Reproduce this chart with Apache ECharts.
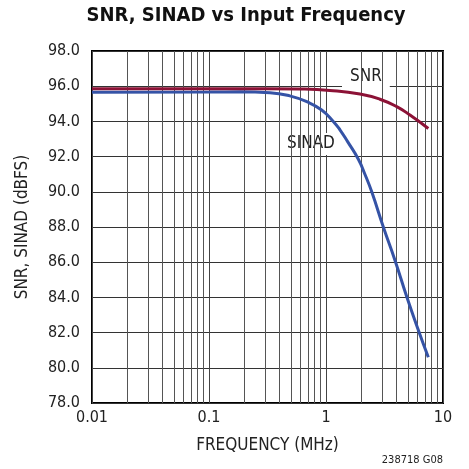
<!DOCTYPE html>
<html>
<head>
<meta charset="utf-8">
<script src="https://cdn.jsdelivr.net/npm/echarts@6/dist/echarts.min.js"></script>
<style>
    html, body{ margin: 0; padding: 0; background: #fff; }
    #main{ width: 469px; height: 469px; }
</style>
</head>
<body>
<div id="main"></div>
<script type="text/javascript">
    // 数据
    const snrFreq = [0.01, 0.1, 0.3, 0.6, 1.08, 1.95, 2.89, 4.02, 5.22, 7.49];
    const snrValues = [95.86, 95.86, 95.86, 95.84, 95.76, 95.56, 95.26, 94.84, 94.36, 93.6];
    const sinadFreq = [0.01, 0.1, 0.184, 0.332, 0.49, 0.684, 0.918, 1.154, 1.32, 1.53, 1.89, 2.15, 2.46, 3.09, 3.89, 4.9, 6.15, 7.49];
    const sinadValues = [95.66, 95.67, 95.68, 95.63, 95.45, 95.12, 94.65, 94.0, 93.51, 92.85, 91.85, 91.0, 90.0, 88.0, 86.1, 84.04, 82.15, 80.6];
    const xTicks = [0.01, 0.1, 1, 10];
    const minorLines = [0.02, 0.03, 0.04, 0.05, 0.06, 0.07, 0.08, 0.09,
                        0.2, 0.3, 0.4, 0.5, 0.6, 0.7, 0.8, 0.9,
                        2, 3, 4, 5, 6, 7, 8, 9];

    const font = "'DejaVu Sans Condensed', 'Liberation Sans', sans-serif";

    function pairs(xs, ys){
        let out = [];
        for(let i=0; i<xs.length; i++){
            out.push([xs[i], ys[i]]);
        }
        return out;
    }

    let myChart = echarts.init(document.getElementById('main'));

    let option = {
        animation: false,
        grid: {
            left: 92, right: 26, top: 51, bottom: 66,
            show: true, borderColor: '#000', borderWidth: 2
        },
        xAxis: {
            type: 'log',
            logBase: 10,
            min: 0.01,
            max: 10,
            name: 'FREQUENCY (MHz)',
            nameLocation: 'middle',
            nameGap: 34,
            nameTextStyle: { fontFamily: font, fontSize: 17, color: '#222' },
            axisLine: { show: false },
            axisTick: { show: false },
            axisLabel: {
                fontFamily: font, fontSize: 16, color: '#222', margin: 7,
                formatter: function (v) {
                    for (let t of xTicks) { if (Math.abs(v - t) < t * 1e-6) return String(t); }
                    return '';
                }
            },
            splitLine: { show: true, lineStyle: { color: '#444', width: 1 } }
        },
        yAxis: {
            type: 'value',
            min: 78,
            max: 98,
            interval: 2,
            name: 'SNR, SINAD (dBFS)',
            nameLocation: 'middle',
            nameGap: 61,
            nameTextStyle: { fontFamily: font, fontSize: 17, color: '#222' },
            axisLine: { show: false },
            axisTick: { show: false },
            axisLabel: {
                fontFamily: font, fontSize: 16, color: '#222', margin: 12,
                formatter: function (v) { return v.toFixed(1); }
            },
            splitLine: { show: true, lineStyle: { color: '#333', width: 1 } }
        },
        series: [
            {
                name: 'grid-minor',
                type: 'line',
                data: [],
                silent: true,
                markLine: {
                    symbol: 'none',
                    silent: true,
                    label: { show: false },
                    lineStyle: { color: '#555', width: 1, type: 'solid' },
                    data: minorLines.map(v => ({ xAxis: v }))
                }
            },
            {
                name: 'SINAD',
                type: 'line',
                smooth: 0.5,
                showSymbol: false,
                data: pairs(sinadFreq, sinadValues),
                lineStyle: { color: '#3553a6', width: 3 },
                z: 5
            },
            {
                name: 'SNR',
                type: 'line',
                smooth: 0.5,
                showSymbol: false,
                data: pairs(snrFreq, snrValues),
                lineStyle: { color: '#8c1236', width: 3 },
                z: 6
            }
        ],
        graphic: [
            {
                type: 'text', x: 246, y: 6, z: 10,
                style: {
                    text: 'SNR, SINAD vs Input Frequency', fill: '#111',
                    font: 'bold 20px ' + font, align: 'center', verticalAlign: 'top'
                }
            },
            {
                type: 'text', left: 342, top: 66, z: 3,
                style: {
                    text: 'SNR', fill: '#222', font: '17px ' + font,
                    backgroundColor: '#fff', padding: [2, 8, 4, 8]
                }
            },
            {
                type: 'text', left: 284, top: 133, z: 3,
                style: {
                    text: 'SINAD', fill: '#222', font: '17px ' + font,
                    backgroundColor: '#fff', padding: [2, 3, 3, 3]
                }
            },
            {
                type: 'text', right: 26, top: 455,
                style: { text: '238718 G08', fill: '#222', font: '11px ' + font }
            }
        ]
    };
    myChart.setOption(option);
</script>
</body>
</html>
